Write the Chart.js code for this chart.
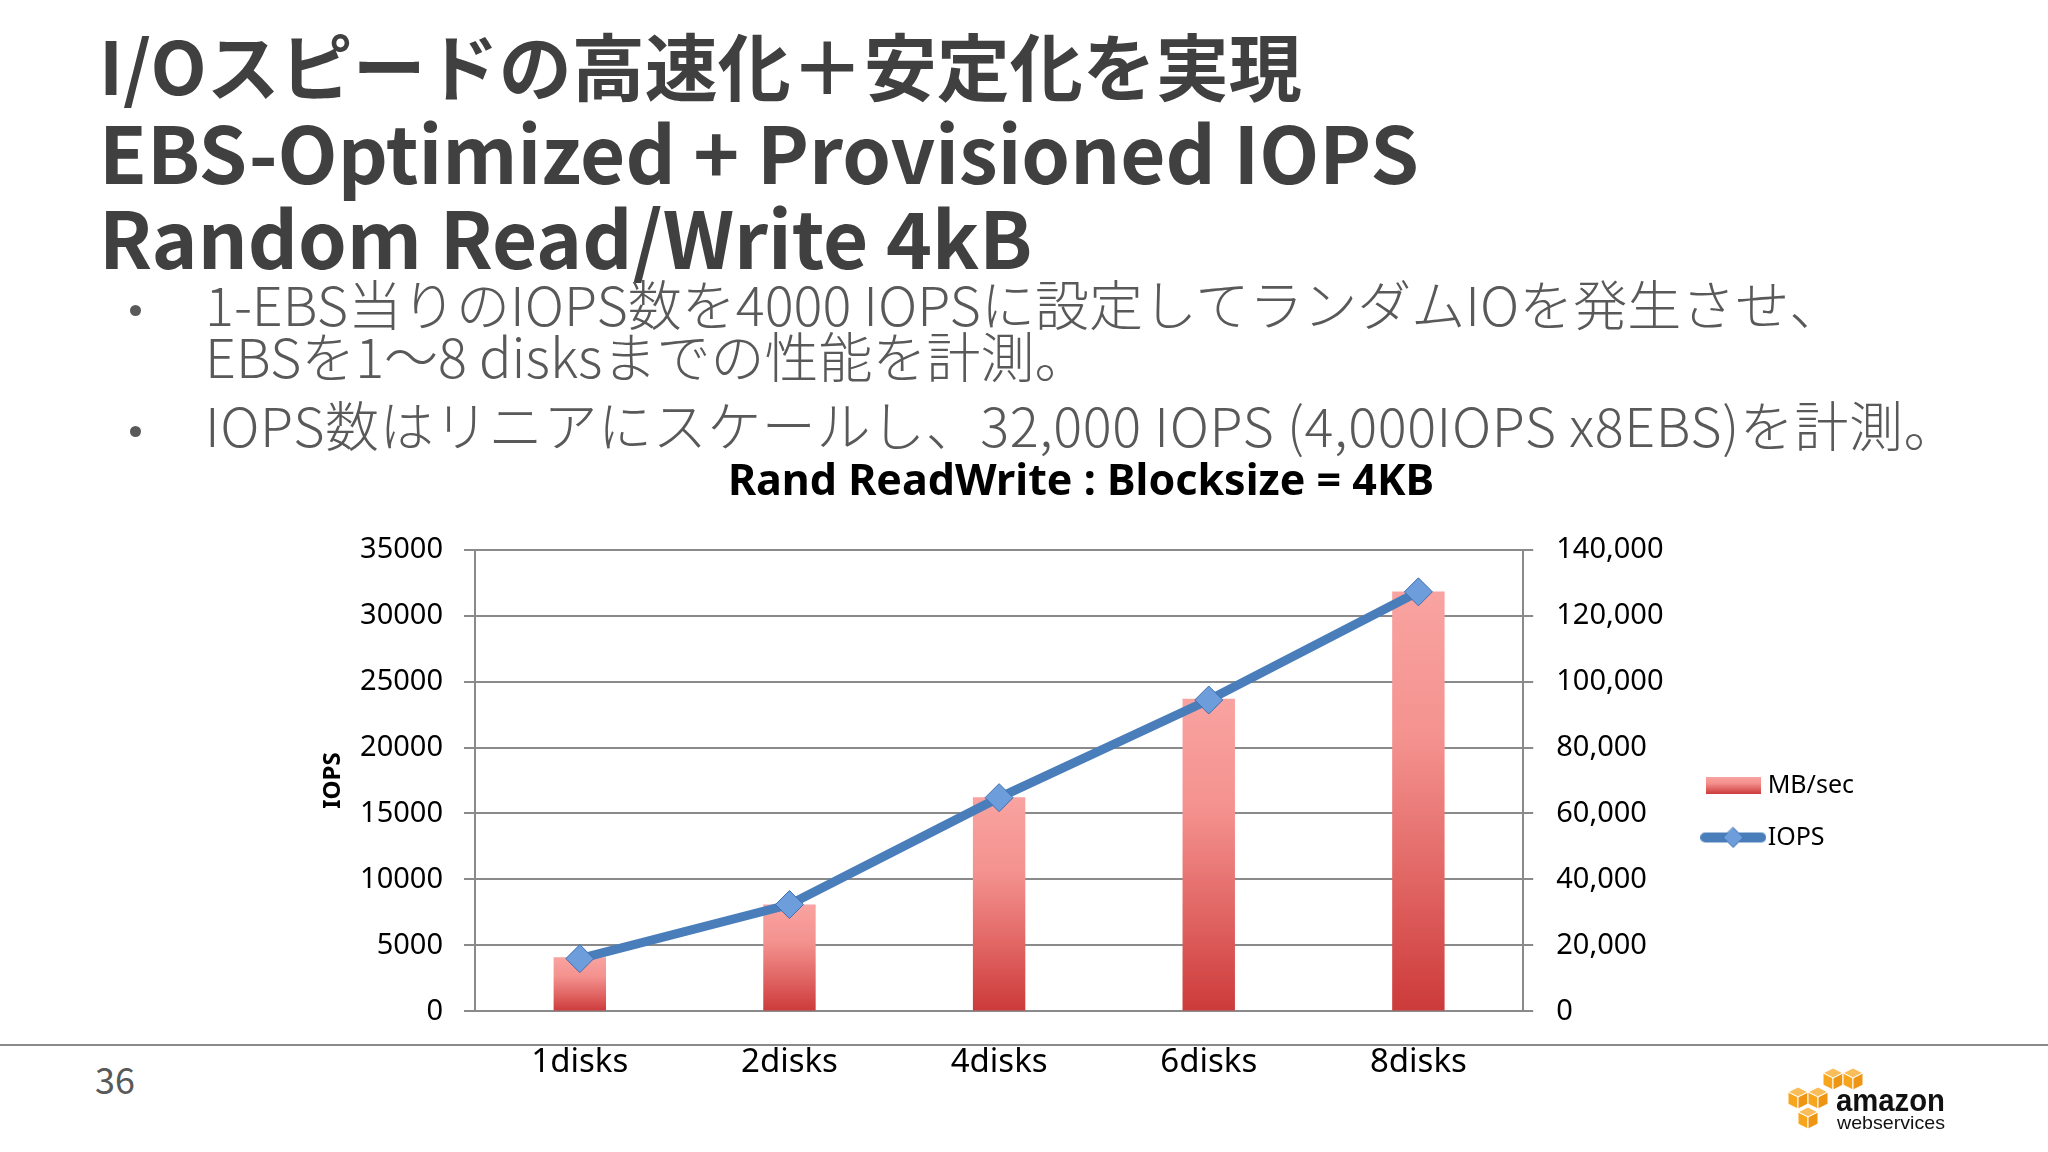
<!DOCTYPE html>
<html>
<head>
<meta charset="utf-8">
<script src="https://cdn.jsdelivr.net/npm/chart.js@4.4.0/dist/chart.umd.min.js"></script>
<style>
  html, body { margin: 0; padding: 0; background: #fff; }
  body { width: 2048px; height: 1152px; position: relative; overflow: hidden;
         font-family: "Noto Sans CJK JP", "Noto Sans", sans-serif; }
  .head { position: absolute; left: 99px; color: #404040; font-weight: 700; white-space: nowrap; }
  .bul { position: absolute; left: 205px; color: #595959; font-weight: 300; white-space: nowrap; font-size: 54px; line-height: 52px; }
  .dot { position: absolute; left: 130px; width: 11px; height: 11px; border-radius: 50%; background: #595959; }
  #rule { position: absolute; left: 0; top: 1044px; width: 2048px; height: 2px; background: #8a8a8a; }
  #page { position: absolute; left: 95px; top: 1060px; font-size: 36px; line-height: 36px; color: #595959; }
  #chart { position: absolute; left: 290px; top: 440px; }
  #logo { position: absolute; left: 1780px; top: 1060px; }
</style>
</head>
<body>
<div class="head" style="top:27px; font-size:73px; line-height:73px;">I/Oスピードの高速化＋安定化を実現</div>
<div class="head" style="top:111px; font-size:78px; line-height:78px;">EBS-Optimized + Provisioned IOPS</div>
<div class="head" style="top:196px; font-size:78px; line-height:78px;">Random Read/Write 4kB</div>

<div class="dot" style="top:305px;"></div>
<div class="bul" style="top:277px;">1-EBS当りのIOPS数を4000 IOPSに設定してランダムIOを発生させ、<br>EBSを1～8 disksまでの性能を計測。</div>
<div class="dot" style="top:426px;"></div>
<div class="bul" style="top:398px; letter-spacing:0.6px;">IOPS数はリニアにスケールし、32,000 IOPS (4,000IOPS x8EBS)を計測。</div>

<div id="rule"></div>
<div id="page">36</div>

<canvas id="chart" width="1582" height="673"></canvas>

<svg id="logo" width="180" height="80" viewBox="1780 1060 180 80">
  <defs>
    <g id="cube">
      <polygon points="0,5 10,0 20,5 10,10" fill="#f9bd5a" stroke="#fff" stroke-width="1"/>
      <polygon points="0,5 10,10 10,22 0,17" fill="#f7a51c" stroke="#fff" stroke-width="1"/>
      <polygon points="10,10 20,5 20,17 10,22" fill="#ee9514" stroke="#fff" stroke-width="1"/>
    </g>
  </defs>
  <use href="#cube" x="1823" y="1068"/>
  <use href="#cube" x="1843" y="1068"/>
  <use href="#cube" x="1788" y="1087"/>
  <use href="#cube" x="1808" y="1087"/>
  <use href="#cube" x="1798" y="1107"/>
  <text x="1836" y="1111" font-family="Liberation Sans" font-weight="700" font-size="31" textLength="109" lengthAdjust="spacingAndGlyphs" fill="#111">amazon</text>
  <text x="1837" y="1129" font-family="Liberation Sans" font-size="19" textLength="108" lengthAdjust="spacingAndGlyphs" fill="#111">webservices</text>
</svg>

<script>
var categories = ['1disks', '2disks', '4disks', '6disks', '8disks'];
var iopsValues = [4000, 8100, 16200, 23600, 31800];
var mbSecValues = [16400, 32400, 64900, 94800, 127300];
var iopsAxis = { min: 0, max: 35000, step: 5000 };
var mbSecAxis = { min: 0, max: 140000, step: 20000 };

var gridColor = '#8a8a8a';
var lineBlue = '#4a7ebb';

Chart.defaults.font.family = '"Noto Sans", sans-serif';
Chart.defaults.color = '#000';

function redStops(g) {
  g.addColorStop(0, '#f9a3a0');
  g.addColorStop(0.35, '#f4928f');
  g.addColorStop(0.7, '#e06462');
  g.addColorStop(1, '#cc3a3a');
  return g;
}

function barFill(c) {
  var chart = c.chart;
  if (!chart.chartArea || c.type !== 'data' || !c.parsed) return '#e06666';
  var s = chart.scales.y1;
  var top = s.getPixelForValue(c.parsed.y);
  var base = s.getPixelForValue(0);
  return redStops(chart.ctx.createLinearGradient(0, top, 0, base));
}

function barIcon() {
  var cv = document.createElement('canvas');
  cv.width = 55; cv.height = 17;
  var g = cv.getContext('2d');
  g.fillStyle = redStops(g.createLinearGradient(0, 0, 0, 17));
  g.fillRect(0, 0, 55, 17);
  return cv;
}

function lineIcon() {
  var cv = document.createElement('canvas');
  cv.width = 66; cv.height = 26;
  var g = cv.getContext('2d');
  g.strokeStyle = lineBlue;
  g.lineWidth = 10;
  g.lineCap = 'round';
  g.beginPath(); g.moveTo(5, 13); g.lineTo(61, 13); g.stroke();
  g.fillStyle = '#6d9ddb';
  g.strokeStyle = '#3f6fb0';
  g.lineWidth = 1;
  g.beginPath(); g.moveTo(33, 3); g.lineTo(43, 13); g.lineTo(33, 23); g.lineTo(23, 13); g.closePath();
  g.fill(); g.stroke();
  return cv;
}

var icons = { bar: barIcon(), line: lineIcon() };

// nudge the legend down next to the 60,000 tick like the original
var legendShift = {
  id: 'legendShift',
  afterLayout: function(chart) {
    chart.legend.top += 35;
    chart.legend.bottom += 35;
  }
};

new Chart(document.getElementById('chart'), {
  type: 'bar',
  data: {
    labels: categories,
    datasets: [{
      type: 'line',
      label: 'IOPS',
      data: iopsValues,
      yAxisID: 'y',
      order: 0,
      borderColor: lineBlue,
      borderWidth: 9,
      tension: 0,
      pointStyle: 'rectRot',
      pointRadius: 14,
      pointBackgroundColor: '#6d9ddb',
      pointBorderColor: '#3f6fb0',
      pointBorderWidth: 1
    }, {
      type: 'bar',
      label: 'MB/sec',
      data: mbSecValues,
      yAxisID: 'y1',
      order: 1,
      backgroundColor: barFill,
      barPercentage: 0.25,
      categoryPercentage: 1
    }]
  },
  options: {
    responsive: false,
    animation: false,
    layout: { padding: { left: 8, right: 8, top: 0, bottom: 0 } },
    plugins: {
      title: {
        display: true,
        text: 'Rand ReadWrite : Blocksize = 4KB',
        color: '#000',
        font: { size: 43, weight: 'bold' },
        padding: { top: 17, bottom: 41 }
      },
      legend: {
        position: 'right',
        labels: {
          usePointStyle: true,
          pointStyleWidth: 44,
          padding: 27,
          color: '#000',
          font: { size: 25 },
          generateLabels: function(chart) {
            return [
              { text: 'MB/sec', pointStyle: icons.bar, datasetIndex: 1, fillStyle: 'rgba(0,0,0,0)', strokeStyle: 'rgba(0,0,0,0)', lineWidth: 0, hidden: false },
              { text: 'IOPS', pointStyle: icons.line, datasetIndex: 0, fillStyle: 'rgba(0,0,0,0)', strokeStyle: 'rgba(0,0,0,0)', lineWidth: 0, hidden: false }
            ];
          }
        }
      },
      tooltip: { enabled: false }
    },
    scales: {
      x: {
        grid: { display: false, drawTicks: false },
        border: { display: false },
        ticks: { font: { size: 33 }, padding: 31 }
      },
      y: {
        position: 'left',
        min: iopsAxis.min,
        max: iopsAxis.max,
        ticks: { stepSize: iopsAxis.step, font: { size: 29 }, padding: 21,
                 callback: function(v) { return String(v); } },
        grid: { color: gridColor, lineWidth: 2, tickLength: 11 },
        border: { color: gridColor, width: 2 },
        title: { display: true, text: 'IOPS', font: { size: 24, weight: 'bold' }, padding: { top: 21, bottom: 0 } },
        afterFit: function(s) { s.width = 177; }
      },
      y1: {
        position: 'right',
        min: mbSecAxis.min,
        max: mbSecAxis.max,
        ticks: { stepSize: mbSecAxis.step, font: { size: 29 }, padding: 23,
                 callback: function(v) { return v.toLocaleString('en-US'); } },
        grid: { drawOnChartArea: false, color: gridColor, lineWidth: 2, tickLength: 10 },
        border: { color: gridColor, width: 2 },
        afterFit: function(s) { s.width = 161; }
      }
    }
  },
  plugins: [legendShift]
});
</script>
</body>
</html>
